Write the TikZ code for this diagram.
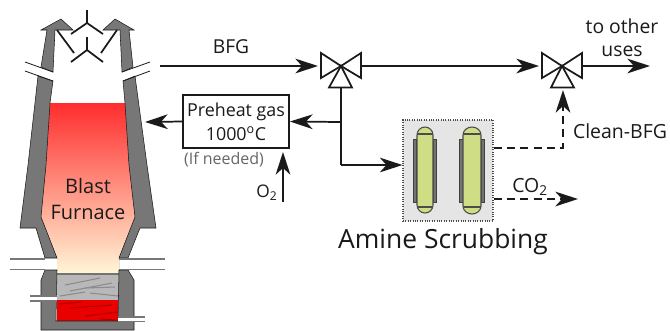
\documentclass[tikz,border=0pt]{standalone}
\usepackage{fontspec}
\setmainfont{Open Sans}
\usetikzlibrary{arrows.meta,positioning}
\definecolor{wall}{HTML}{777777}
\definecolor{ink}{HTML}{1A1A1A}
\definecolor{vesselgreen}{HTML}{CFDD85}
\tikzset{
  wallshape/.style={fill=wall,draw=ink,line width=.4pt,line join=miter},
  breakline/.style={draw=ink,line width=.6pt},
  pipeline/.style={draw=wall,line width=.9pt},
  bell/.style={draw=ink,line width=1.3pt},
  valvetri/.style={draw=ink,line width=1.3pt,fill=white,line join=miter},
  flow/.style={draw=ink,line width=1.3pt,-{Stealth[length=17pt,width=11pt,inset=5pt]}},
  plainflow/.style={draw=ink,line width=1.3pt},
  dashflow/.style={draw=ink,line width=1.3pt,dash pattern=on 6pt off 4pt,-{Stealth[length=17pt,width=11pt,inset=5pt]}},
  vessel/.style={draw=black!70,line width=.8pt,fill=vesselgreen},
  hatchstrip/.style={fill=black!55,draw=black!75,line width=.3pt},
  label/.style={text=ink,inner sep=0pt,align=center},
  streak/.style={line width=.8pt}
}
\begin{document}
\begin{tikzpicture}[x=.75pt,y=-.75pt]
\useasboundingbox (0,0) rectangle (670,330);
\fill[white] (0,0) rectangle (670,330);
% furnace interior
\fill[top color={rgb,255:red,255;green,45;blue,45},middle color={rgb,255:red,255;green,165;blue,135},bottom color={rgb,255:red,255;green,247;blue,215}]
  (50,103)--(125,103)--(129,165)--(135,217)--(119,258)--(119,274)--(57,274)--(57,258)--(41,217)--(46,165)--cycle;
\fill[black!28] (57,274) rectangle (119,301);
\fill[red!92!black] (57,300) rectangle (118,321);
\foreach \a/\b/\c/\d in {65/285/100/278,70/291/112/283,60/296/85/292,90/293/118/296,85/288/115/287}
  \draw[streak,black!45] (\a,\b)--(\c,\d);
\foreach \a/\b/\c/\d in {60/304/82/302,70/308/112/305,85/316/118/312,100/319/116/320}
  \draw[streak,red!70!black] (\a,\b)--(\c,\d);
\draw[black!55,line width=.8pt] (57,274)--(119,274);
% walls
\draw[wallshape] (61,19)--(73,30)--(55,30)--(53,72)--(41,67)--(47,30)--(41,30)--cycle;
\draw[wallshape] (115,19)--(134,30)--(129,30)--(133,67)--(122,72)--(120,30)--(103,30)--cycle;
\draw[wallshape] (38,76)--(53,81)--(50,103)--(46,165)--(41,217)--(57,258)--(45,258)--(36,228)--(20,228)--(28,165)--cycle;
\draw[wallshape] (135,76)--(123,81)--(125,103)--(129,165)--(135,217)--(119,258)--(128,258)--(140,228)--(156,228)--(147,165)--cycle;
\draw[wallshape] (45,270)--(57,270)--(56,321)--(118,321)--(119,270)--(128,270)--(134,280)--(134,330)--(41,330)--(41,280)--cycle;
\draw[breakline] (25,62)--(53,72) (25,71)--(53,81) (150,62)--(122,72) (150,71)--(123,81);
% pipes
\draw[pipeline] (10,259)--(45,259) (10,269.5)--(45,269.5) (119,259)--(165,259) (119,269.5)--(165,269.5);
\fill[white] (30,297) rectangle (57,300.5);
\fill[white] (118,317) rectangle (145,321);
\draw[pipeline] (30,296)--(57,296) (30,301)--(57,301) (118,317)--(145,317) (118,321.5)--(145,321.5);
% bells
\draw[bell] (87,10)--(87,23) (71,34)--(87,23)--(103,34);
\draw[bell] (87,37)--(87,50) (71,62)--(87,50)--(103,62);
\draw[bell] (57,30)--(74,53) (117,30)--(101,53);
% labels
\node[label,font=\fontsize{15pt}{20pt}\selectfont] (blast) at (88,199) {Blast\\Furnace};
% named points
\coordinate (fstart) at (160,66);
\coordinate (valveAin) at (318,66);
\coordinate (valveAout) at (362,66);
\coordinate (valveAb) at (341,87);
\coordinate (valveBin) at (539,66);
\coordinate (valveBout) at (582,66);
\coordinate (otheruse) at (650,66);
\coordinate (branch) at (341,122);
\coordinate (corner) at (341,165);
\coordinate (furn) at (145,122);
\coordinate (o2start) at (283,202);
\coordinate (o2end) at (283,152);
\coordinate (cleanCorner) at (563,148);
\coordinate (cleanEnd) at (563,90);
\coordinate (co2end) at (578,199);
% scrubber
\node[draw=black!70,densely dotted,line width=.8pt,fill=black!10,minimum width=67.5pt,minimum height=75.75pt,inner sep=0pt] (scrub) at (448,170.5) {};
\foreach \x in {413,433,459.5,481}
  \draw[hatchstrip] (\x,139) rectangle (\x+3.5,202);
\draw[vessel] (417,135) arc[start angle=180,end angle=360,x radius=8,y radius=8]--(433,205) arc[start angle=0,end angle=180,x radius=8,y radius=8]--cycle;
\draw[vessel] (463,135) arc[start angle=180,end angle=360,x radius=9,y radius=8]--(481,206) arc[start angle=0,end angle=180,x radius=9,y radius=8]--cycle;
\draw[black!70,line width=.8pt] (417,134)--(433,134) (417,207)--(433,207) (463,134)--(481,134) (463,207)--(481,207);
% preheat box
\node[draw=ink,line width=1.4pt,minimum width=79.5pt,minimum height=39.75pt,inner sep=0pt,label,font=\fontsize{13.4pt}{18pt}\selectfont] (preheat) at (236,121.5) {Preheat gas\\1000\textsuperscript{o}C};
\node[label,font=\fontsize{12pt}{14pt}\selectfont,text=black!60] (needed) at (224,160) {(If needed)};
% connectors
\draw[flow] (fstart)--(valveAin);
\draw[flow] (valveAout)--(valveBin);
\draw[flow] (valveBout)--(otheruse);
\draw[plainflow] (valveAb)--(corner);
\draw[flow] (branch)--(preheat.east);
\draw[flow] (preheat.west)--(furn);
\draw[flow] (corner)--(scrub.west|-corner);
\draw[flow] (o2start)--(o2end);
\draw[dashflow] (scrub.east|-cleanCorner)--(cleanCorner)--(cleanEnd);
\draw[dashflow] (scrub.east|-co2end)--(co2end);
% valves
\foreach \c/\lx/\rx/\ax/\bx in {341/321/361/329/352,562/542/582/551/574}{
  \draw[valvetri] (\c,66)--(\lx,53)--(\lx,78)--cycle;
  \draw[valvetri] (\c,66)--(\rx,53)--(\rx,78)--cycle;
  \draw[valvetri] (\c,66)--(\ax,87.5)--(\bx,87.5)--cycle;
}
% texts
\node[label,font=\fontsize{14.4pt}{16pt}\selectfont] (bfg) at (231,47) {BFG};
\node[label,font=\fontsize{13pt}{14pt}\selectfont] (oxy) at (267,193) {O\textsubscript{2}};
\node[label,font=\fontsize{14.5pt}{17pt}\selectfont] (other) at (622,38) {to other\\uses};
\node[label,font=\fontsize{14.6pt}{16pt}\selectfont] (clean) at (620,131) {Clean-BFG};
\node[label,font=\fontsize{14.6pt}{16pt}\selectfont] (co2) at (530,187) {CO\textsubscript{2}};
\node[label,font=\fontsize{19.8pt}{22pt}\selectfont] (amine) at (443,242) {Amine Scrubbing};
\end{tikzpicture}
\end{document}
